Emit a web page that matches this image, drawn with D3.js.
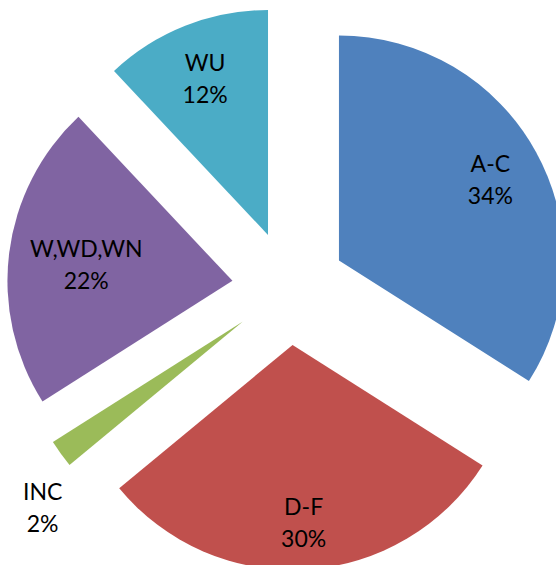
<!DOCTYPE html>
<html>
<head>
<meta charset="utf-8">
<script src="https://cdnjs.cloudflare.com/ajax/libs/d3/7.8.5/d3.min.js"></script>
<style>
  body { margin: 0; background: #fff; }
  text { font-family: Lato, "Open Sans", sans-serif; font-size: 23px; fill: #000; }
</style>
</head>
<body>
<div id="pie-chart"></div>
<script>
// slice data, clockwise from 12 o'clock
var categories = ["A-C", "D-F", "INC", "W,WD,WN", "WU"];
var values = [34, 30, 2, 22, 12];
var colors = ["#4F81BD", "#C0504D", "#9BBB59", "#8064A2", "#4BACC6"];
var outside = ["INC"];

(function() {
    var width = 556;
    var height = 565;
    var cx = 289, cy = 288;
    var radius = 225;
    var explode = 57;
    var lineGap = 32;

    var svg = d3.select("#pie-chart")
    .append("svg")
    .attr("width", width)
    .attr("height", height)
    .append("g")
    .attr("transform", `translate(${cx}, ${cy})`);

    var data = categories.map((c, i) => ({ name: c, value: values[i], color: colors[i] }));
    var total = d3.sum(values);

    var pie = d3.pie()
    .value(d => d.value)
    .sort(null);

    var arc = d3.arc()
    .innerRadius(0)
    .outerRadius(radius);

    var arcs = pie(data);

    const midAngle = (a) => (a.startAngle + a.endAngle) / 2;

    // offset of each exploded slice along its middle angle
    const shift = (a, dist) => {
        var mid = midAngle(a);
        return [Math.sin(mid) * dist, -Math.cos(mid) * dist];
    };

    var slices = svg.selectAll()
    .data(arcs)
    .enter()
    .append("g")
    .attr("transform", (a) => `translate(${shift(a, explode)})`);

    slices.append("path")
    .attr("d", arc)
    .attr("fill", (a) => a.data.color);

    var labels = slices.append("g");

    var texts = labels.append("text")
    .attr("text-anchor", "middle");

    texts.append("tspan")
    .attr("x", 0)
    .attr("y", 0)
    .text((a) => a.data.name);

    texts.append("tspan")
    .attr("x", 0)
    .attr("y", lineGap)
    .text((a) => Math.round(a.data.value / total * 100) + "%");

    // centre the text block, then push it out until its far edge sits near the rim
    texts.each(function(a) {
        var b = this.getBBox();
        d3.select(this).attr("transform", `translate(0, ${-(b.y + b.height / 2) + 2})`);
        var hw = b.width / 2, hh = b.height / 2;
        var mid = midAngle(a);
        var p;
        if (outside.indexOf(a.data.name) < 0) {
            var d = radius * 0.92 - (hw * Math.abs(Math.sin(mid)) + hh * Math.abs(Math.cos(mid)));
            p = shift(a, d);
        } else {
            p = shift(a, radius * 1.1);
            p[1] += hh + 8;
        }
        d3.select(this.parentNode).attr("transform", `translate(${p})`);
    });
})();
</script>
</body>
</html>
